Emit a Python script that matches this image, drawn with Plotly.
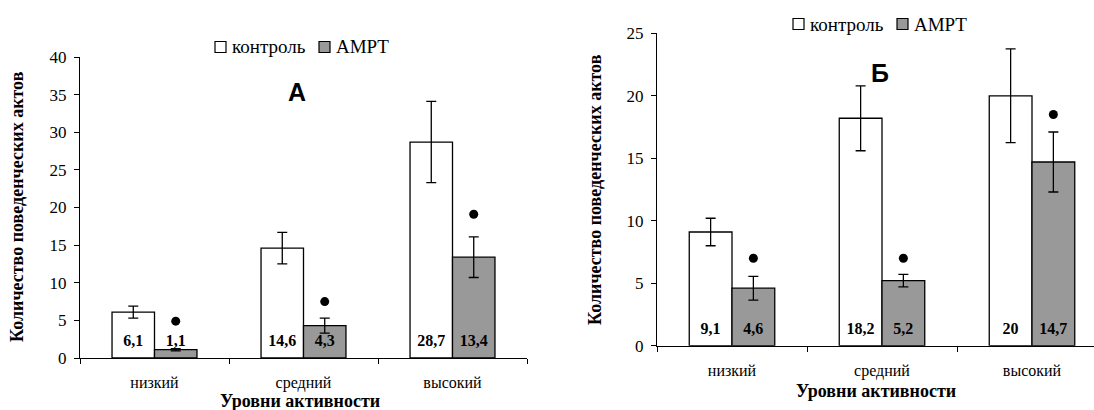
import plotly.graph_objects as go

# ---------------- data ----------------
categories = ["низкий", "средний", "высокий"]

control_A = [6.1, 14.6, 28.7]
control_A_err = [0.8, 2.1, 5.4]
ampt_A = [1.1, 4.3, 13.4]
ampt_A_err = [0.15, 1.0, 2.7]
signif_A = [4.9, 7.5, 19.1]

control_B = [9.1, 18.2, 20]
control_B_err = [1.1, 2.6, 3.75]
ampt_B = [4.6, 5.2, 14.7]
ampt_B_err = [0.95, 0.5, 2.4]
signif_B = [7.0, 7.0, 18.5]

yticks_A = [0, 5, 10, 15, 20, 25, 30, 35, 40]
yticks_B = [0, 5, 10, 15, 20, 25]

series_names = ["контроль", "AMPT"]
panel_letters = ["А", "Б"]
y_title = "Количество поведенческих актов"
x_title = "Уровни активности"

# ---------------- style ----------------
W, H = 1094, 410
SERIF = "Liberation Serif"
SANS = "Liberation Sans"
GRAY = "#999999"
FILLS = ["white", GRAY]
BARGAP = 0.43
BAR_W = (1 - BARGAP) / 2
LINE_W = 1.3
LABEL_Y_A = 2.1
LABEL_Y_B = 1.26


def px_x(x):
    return x / W


def px_y(y):
    return 1 - y / H


def fmt(v):
    return f"{v:g}".replace(".", ",")


xpos = list(range(len(categories)))
fig = go.Figure()


def add_panel(ctrl, ctrl_err, ampt, ampt_err, signif, xa, ya, label_y):
    common_err = dict(type="data", color="black", thickness=LINE_W, width=5, visible=True)
    for vals, errs, name, fill in ((ctrl, ctrl_err, series_names[0], FILLS[0]),
                                   (ampt, ampt_err, series_names[1], FILLS[1])):
        fig.add_trace(go.Bar(
            x=xpos, y=vals, name=name, showlegend=False,
            error_y=dict(array=errs, **common_err),
            marker=dict(color=fill, line=dict(color="black", width=LINE_W)),
            xaxis=xa, yaxis=ya, hoverinfo="name+y",
        ))
    # significance dots above AMPT bars
    fig.add_trace(go.Scatter(
        x=[i + BAR_W / 2 for i in xpos], y=signif, mode="markers",
        marker=dict(color="black", size=9), showlegend=False,
        xaxis=xa, yaxis=ya, hoverinfo="skip",
    ))
    # value labels at the bottom of the bars
    fig.add_trace(go.Scatter(
        x=[i - BAR_W / 2 for i in xpos] + [i + BAR_W / 2 for i in xpos],
        y=[label_y] * (2 * len(xpos)),
        text=[fmt(v) for v in ctrl] + [fmt(v) for v in ampt],
        mode="text", textfont=dict(family=SERIF, size=16, color="black"),
        texttemplate="<b>%{text}</b>",
        showlegend=False, xaxis=xa, yaxis=ya, hoverinfo="skip",
    ))


add_panel(control_A, control_A_err, ampt_A, ampt_A_err, signif_A, "x", "y", LABEL_Y_A)
add_panel(control_B, control_B_err, ampt_B, ampt_B_err, signif_B, "x2", "y2", LABEL_Y_B)

xaxis_common = dict(
    tickvals=xpos, ticktext=categories, ticks="",
    showline=True, linecolor="black", linewidth=LINE_W,
    showgrid=False, zeroline=False, ticklabelstandoff=10,
    tickfont=dict(family=SERIF, size=16, color="black"),
    fixedrange=True, automargin=False,
)
yaxis_common = dict(
    ticks="outside", ticklen=5, tickwidth=LINE_W, tickcolor="black",
    showline=True, linecolor="black", linewidth=LINE_W,
    showgrid=False, zeroline=False, ticklabelstandoff=4,
    tickfont=dict(family=SERIF, size=17, color="black"),
    fixedrange=True, automargin=False,
)

# ---- legends drawn as square swatches + text (one per panel) ----
shapes = []
annotations = []
legend_specs = [  # (square left px, text left px) for each item, y centre
    ([(215, 230), (319, 334)], 47),
    ([(793, 808), (897, 912)], 24),
]
SQ = 11
for items, yc in legend_specs:
    for (sx, tx), name, fill in zip(items, series_names, FILLS):
        shapes.append(dict(type="rect", xref="paper", yref="paper",
                           x0=px_x(sx), x1=px_x(sx + SQ), y0=px_y(yc + SQ / 2), y1=px_y(yc - SQ / 2),
                           fillcolor=fill, line=dict(color="black", width=1.2)))
        annotations.append(dict(text=name, x=px_x(tx), y=px_y(yc), xref="paper", yref="paper",
                                xanchor="left", yanchor="middle", showarrow=False,
                                font=dict(family=SERIF, size=19, color="black")))

text_annots = [
    (f"<b>{panel_letters[0]}</b>", 297, 92, 0, SANS, 25),
    (f"<b>{panel_letters[1]}</b>", 880, 73, 0, SANS, 25),
    (f"<b>{y_title}</b>", 17, 207, -90, SERIF, 18),
    (f"<b>{y_title}</b>", 595, 190, -90, SERIF, 18),
    (f"<b>{x_title}</b>", 300, 401, 0, SERIF, 18),
    (f"<b>{x_title}</b>", 876, 391, 0, SERIF, 18),
]
for txt, x, y, ang, fam, size in text_annots:
    annotations.append(dict(text=txt, x=px_x(x), y=px_y(y), xref="paper", yref="paper",
                            xanchor="center", yanchor="middle", textangle=ang, showarrow=False,
                            font=dict(family=fam, size=size, color="black")))

fig.update_layout(
    width=W, height=H,
    margin=dict(l=0, r=0, t=0, b=0, pad=0, autoexpand=False),
    paper_bgcolor="white", plot_bgcolor="white",
    barmode="group", bargap=BARGAP, bargroupgap=0,
    showlegend=False,
    font=dict(family=SERIF, color="black"),
    xaxis=dict(domain=[px_x(80), px_x(527)], range=[-0.5, 2.5], anchor="y",
               minor=dict(tickvals=[-0.5, 0.5, 1.5, 2.5], ticks="outside", ticklen=5,
                          tickwidth=LINE_W, tickcolor="black"),
               **xaxis_common),
    yaxis=dict(domain=[px_y(358), px_y(57)], range=[0, 40], tickvals=yticks_A,
               anchor="x", **yaxis_common),
    xaxis2=dict(domain=[px_x(657), 1.0], range=[-0.5, -0.5 + (W - 657) / 150], anchor="y2",
                minor=dict(tickvals=[-0.5, 0.5, 1.5, 2.5], ticks="outside", ticklen=5,
                           tickwidth=LINE_W, tickcolor="black"),
                **xaxis_common),
    yaxis2=dict(domain=[px_y(345.7), px_y(33.3)], range=[0, 25], tickvals=yticks_B,
                anchor="x2", **yaxis_common),
    shapes=shapes,
    annotations=annotations,
)

# remove the browser's default 8px page margin so the figure fills the window exactly
fig.write_html(
    "out.html",
    config={"displayModeBar": False},
    post_script="document.body.style.margin='0px';document.body.style.overflow='hidden';",
)
